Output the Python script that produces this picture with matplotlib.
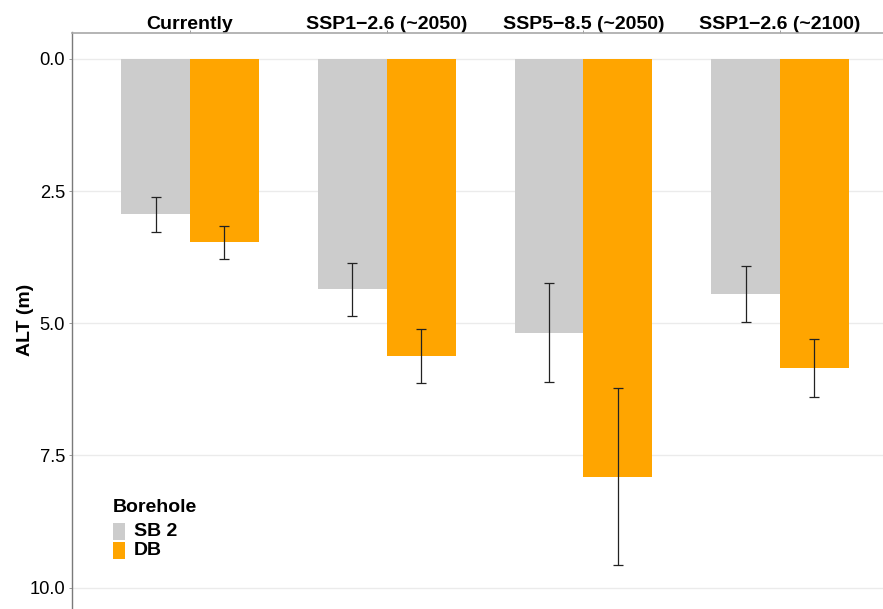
import matplotlib
matplotlib.use("Agg")
import matplotlib.pyplot as plt
from matplotlib.patches import Rectangle
import numpy as np

plt.rcParams['font.family'] = ['Liberation Sans', 'DejaVu Sans']

# Active layer thickness (m) per scenario and borehole
scenarios = ["Currently", "SSP1\u22122.6 (~2050)", "SSP5\u22128.5 (~2050)", "SSP1\u22122.6 (~2100)"]
boreholes = ["SB 2", "DB"]
alt_sb2 = [2.94, 4.36, 5.18, 4.44]
alt_db = [3.47, 5.62, 7.90, 5.84]
err_sb2 = [0.33, 0.50, 0.94, 0.53]
err_db = [0.31, 0.51, 1.67, 0.55]
colors = ["#CCCCCC", "#FFA500"]
yticks = [0.0, 2.5, 5.0, 7.5, 10.0]

W, H = 883, 609
fig = plt.figure(figsize=(W / 100, H / 100), dpi=100)
# axes box in pixels: left 72, right 898, top 32.5, bottom 614
ax = fig.add_axes([72 / W, (H - 614) / H, 826 / W, 581.5 / H])

x = np.arange(1, len(scenarios) + 1)
bw = 0.35
for vals, errs, col, off in [(alt_sb2, err_sb2, colors[0], -bw / 2),
                             (alt_db, err_db, colors[1], bw / 2)]:
    ax.bar(x + off, vals, width=bw, color=col, zorder=2)
    ax.errorbar(x + off, vals, yerr=errs, fmt='none', ecolor='#222222',
                elinewidth=0.9, capsize=3.6, capthick=0.9, zorder=3)

ax.set_xlim(0.4, 4.6)
ax.set_ylim(10.5, -0.5)
ax.set_yticks(yticks)
ax.set_yticklabels([f"{v:.1f}" for v in yticks])
ax.set_xticks(x)
ax.set_xticklabels(scenarios, fontweight='bold')
ax.xaxis.tick_top()
ax.tick_params(axis='x', which='both', top=True, bottom=False, labeltop=True,
               labelbottom=False, length=2.5, width=0.6, color='#888888',
               pad=-3, labelsize=14, labelcolor='black')
ax.tick_params(axis='y', length=2.5, width=0.6, color='#888888', pad=2.5,
               labelsize=13.2, labelcolor='black')

ax.grid(axis='y', color='#EBEBEB', linewidth=1.0, zorder=0)
ax.set_axisbelow(True)
for s in ['right', 'bottom']:
    ax.spines[s].set_visible(False)
ax.spines['left'].set_color('#7a7a7a')
ax.spines['top'].set_color('#a8a8a8')
ax.spines['left'].set_linewidth(1.0)
ax.spines['top'].set_linewidth(1.2)

ax.set_ylabel("ALT (m)", fontsize=14, fontweight='bold')
ax.yaxis.set_label_coords(-47 / 826, (614 - 320) / 581.5)
ax.yaxis.label.set_va('center')

# legend drawn in pixel coordinates of the figure
def px(xp, yp):
    return xp / W, (H - yp) / H

fig.text(*px(113, 512), "Borehole", fontsize=14, fontweight='bold', ha='left', va='baseline')
key_tops = [523, 542]
for col, lab, top in zip(colors, boreholes, key_tops):
    x0, y0 = px(113, top + 17)
    fig.add_artist(Rectangle((x0, y0), 12 / W, 17 / H, transform=fig.transFigure,
                             facecolor=col, edgecolor='none'))
    fig.text(*px(134, top + 8.5), lab, fontsize=14, fontweight='bold',
             ha='left', va='center')

fig.savefig("out.png", dpi=100)
